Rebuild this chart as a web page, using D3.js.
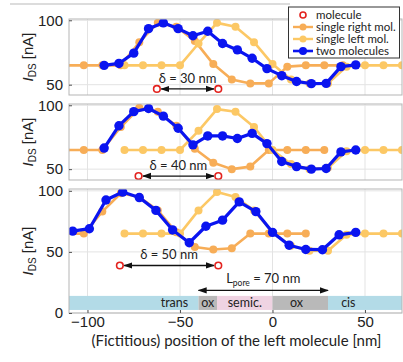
<!DOCTYPE html>
<html><head><meta charset="utf-8">
<script src="https://cdn.jsdelivr.net/npm/d3@7"></script>
<style>body{margin:0;background:#fff;} svg{display:block;}</style>
</head><body><svg id="c" width="403" height="362"></svg>
<script>
// ---------- data ----------
const xTicks = [-100, -50, 0, 50];
const yTicksTop = [50, 100];
const yTicksBottom = [0, 50, 100];
const deltas = [30, 40, 50];

// single left molecule (same sampling in all panels)
const leftX = [-80,-70,-60,-50,-40,-30,-20,-10,0,10,20,30,40,50,60,70];
const leftY1 = [65,65,65,65,82,98,95,83,66,54,51,51,64,65,65,65];
const leftY2 = [65,65,65,65,80,97,95,83,65,54,50,51,64,65,65,65];
const leftY3 = [65,65,65,65,84,99,95,84,66,55,51,51,64,65,65,65];

// single right molecule
const rightX1 = [-112,-102,-92,-82,-72,-62,-52,-42,-32,-22,-12,-2,8,18,28,38];
const rightX2 = [-122,-112,-102,-92,-82,-72,-62,-52,-42,-32,-22,-12,-2,8,18,28];
const rightX3 = [-132,-122,-112,-102,-92,-82,-72,-62,-52,-42,-32,-22,-12,-2,8,18];
const rightY1 = [65,65,65,65,83,98,95,84,66,54,51,51,64,65,65,65];
const rightY2 = [65,65,65,65,83,98,95,84,66,55,50,52,65,65,65,65];
const rightY3 = [65,65,65,65,83,98,95,84,66,54,52,53,65,65,65,65];

// two molecules
const blueX12 = [-91,-83,-75,-67,-59,-51,-43,-35,-27,-19,-11,-3,5,13,21,29,37,45];
const blueY1 = [65,66.5,74.5,93.5,98,93.5,88,91.5,82,77,70.5,62.5,57,52.5,50.8,51,64,65.4];
const blueY2 = [66.5,84,95,97.5,91.5,82,69,76,76,74,78,70,56,52,50,50.5,63.5,65];
const blueX3 = [-108,-99,-90,-81,-72,-63,-54,-45,-36,-27,-18,-9,0,9,18,27,36,45];
const blueY3 = [67,69,92.5,99,94.5,84,68,57.5,71,76,91,83,66,55.5,52,51.8,64,66];

// molecule markers (left, right) and their height
const molX1 = [-62.5, -29.3], molY1 = 46.7;
const molX2 = [-72.4, -29.3], molY2 = 44.6;
const molX3 = [-82.5, -29.3], molY3 = 38.9;

// pore regions
const regionNames = ["trans","ox","semic.","ox","cis"];
const regionStart = [-110,-40,-30,0,30];
const regionEnd   = [-40,-30,0,30,70];
const regionLabelX = [-53,-35,-15,13,41];
const regionBand = [2.5, 14];
const poreSpan = [-40, 30];
const poreLevel = 18.5;
const poreLabel = "= 70 nm";

const legendLabels = ["molecule","single right mol.","single left mol.","two molecules"];

// ---------- styles ----------
const cBlue = "#0a14f0", cOrange = "#f7ad57", cYellow = "#fcc865", cRed = "#e3231f";
const regionColors = {"trans":"#b3dbe7","ox":"#b9b9b9","semic.":"#efd3e2","cis":"#b3dbe7"};

const svg = d3.select("#c");
const x = d3.scaleLinear().domain([-110, 70]).range([69, 402]);

const panels = [
  {top:19, bottom:95, dom:[42,101], ticks:yTicksTop, lx:leftX, ly:leftY1, rx:rightX1, ry:rightY1, bx:blueX12, by:blueY1, mx:molX1, my:molY1, d:deltas[0]},
  {top:104, bottom:180, dom:[41.5,101], ticks:yTicksTop, lx:leftX, ly:leftY2, rx:rightX2, ry:rightY2, bx:blueX12, by:blueY2, mx:molX2, my:molY2, d:deltas[1]},
  {top:189, bottom:313, dom:[0,101.5], ticks:yTicksBottom, lx:leftX, ly:leftY3, rx:rightX3, ry:rightY3, bx:blueX3, by:blueY3, mx:molX3, my:molY3, d:deltas[2]}
];

const defs = svg.append("defs");
const mk = (id, orient) => defs.append("marker").attr("id", id).attr("viewBox","0 0 10 10")
  .attr("refX", 9).attr("refY", 5).attr("markerWidth", 7).attr("markerHeight", 7)
  .attr("orient", orient).append("path").attr("d","M0,1.5 L10,5 L0,8.5 Z").attr("fill","#111");
mk("arrEnd","auto"); mk("arrStart","auto-start-reverse");

// faint frame line at top of figure
svg.append("line").attr("x1",10).attr("x2",290).attr("y1",4).attr("y2",4)
  .attr("stroke","#d0d0d0").attr("stroke-width",1.5);

panels.forEach((p, i) => {
  const y = d3.scaleLinear().domain(p.dom).range([p.bottom, p.top]);
  const g = svg.append("g");
  const cid = "clip" + i;
  defs.append("clipPath").attr("id", cid).append("rect")
    .attr("x", x.range()[0]).attr("y", p.top).attr("width", x.range()[1]-x.range()[0]).attr("height", p.bottom-p.top);

  // grid
  g.selectAll(".vg").data(xTicks).join("line").attr("x1", d=>x(d)).attr("x2", d=>x(d))
    .attr("y1", p.top).attr("y2", p.bottom).attr("stroke","#e3e3e3").attr("stroke-width",1);
  g.selectAll(".hg").data(p.ticks).join("line").attr("x1", x.range()[0]).attr("x2", x.range()[1])
    .attr("y1", d=>y(d)).attr("y2", d=>y(d)).attr("stroke","#e3e3e3").attr("stroke-width",1);

  const c = g.append("g").attr("clip-path", `url(#${cid})`);

  if (i === 2) {
    regionNames.forEach((n, k) => {
      c.append("rect").attr("x", x(regionStart[k])).attr("width", x(regionEnd[k]) - x(regionStart[k]))
        .attr("y", y(regionBand[1])).attr("height", y(regionBand[0]) - y(regionBand[1]))
        .attr("fill", regionColors[n]);
      c.append("text").attr("x", x(regionLabelX[k])).attr("y", y((regionBand[0]+regionBand[1])/2) + 4.5)
        .attr("text-anchor","middle").attr("font-family","Lato").attr("font-size",12.5).attr("fill","#222").text(n);
    });
    // pore length arrow
    c.append("line").attr("x1", x(poreSpan[0])).attr("x2", x(poreSpan[1]))
      .attr("y1", y(poreLevel)).attr("y2", y(poreLevel)).attr("stroke","#111").attr("stroke-width",1.3)
      .attr("marker-start","url(#arrStart)").attr("marker-end","url(#arrEnd)");
    const t = c.append("text").attr("x", x((poreSpan[0]+poreSpan[1])/2)).attr("y", y(poreLevel) - 7)
      .attr("text-anchor","middle").attr("font-family","Lato").attr("font-size",13).attr("fill","#222");
    t.append("tspan").text("L");
    t.append("tspan").attr("font-size",8.5).attr("dy",3).text("pore");
    t.append("tspan").attr("dy",-3).text(" " + poreLabel);
  }

  const line = d3.line().x(d=>x(d[0])).y(d=>y(d[1]));
  const series = [
    {xs:p.rx, ys:p.ry, col:cOrange, w:2.6, r:4},
    {xs:p.lx, ys:p.ly, col:cYellow, w:2.6, r:4},
    {xs:p.bx, ys:p.by, col:cBlue, w:3.2, r:4.7}
  ];
  series.forEach(s => {
    const pts = s.xs.map((v, k) => [v, s.ys[k]]);
    c.append("path").attr("d", line(pts)).attr("fill","none").attr("stroke", s.col)
      .attr("stroke-width", s.w).attr("stroke-linejoin","round");
    c.selectAll(null).data(pts).join("circle").attr("cx", d=>x(d[0])).attr("cy", d=>y(d[1]))
      .attr("r", s.r).attr("fill", s.col);
  });

  // molecules + delta arrow
  const r = 3.3;
  c.append("line").attr("x1", x(p.mx[0]) + r + 1).attr("x2", x(p.mx[1]) - r - 1)
    .attr("y1", y(p.my)).attr("y2", y(p.my)).attr("stroke","#111").attr("stroke-width",1.3)
    .attr("marker-start","url(#arrStart)").attr("marker-end","url(#arrEnd)");
  c.selectAll(null).data(p.mx).join("circle").attr("cx", d=>x(d)).attr("cy", y(p.my)).attr("r", r)
    .attr("fill","#fff").attr("stroke", cRed).attr("stroke-width",1.6);
  c.append("text").attr("x", x((p.mx[0]+p.mx[1])/2)).attr("y", y(p.my) - 6)
    .attr("text-anchor","middle").attr("font-family","Lato").attr("font-size",13).attr("fill","#222")
    .text(`δ = ${p.d} nm`);

  // frame
  g.append("rect").attr("x", x.range()[0]).attr("y", p.top).attr("width", x.range()[1]-x.range()[0])
    .attr("height", p.bottom - p.top).attr("fill","none").attr("stroke","#b5b5b5").attr("stroke-width",1);

  // y axis
  const ya = g.append("g").attr("transform", `translate(${x.range()[0]},0)`)
    .call(d3.axisLeft(y).tickValues(p.ticks).tickSize(-3).tickPadding(6).tickFormat(d3.format("d")));
  ya.select(".domain").remove();
  ya.selectAll("line").attr("stroke","#555");
  ya.selectAll("text").attr("font-family","Liberation Sans").attr("font-size",15).attr("fill","#222");

  // y label
  const yl = g.append("text").attr("transform", `translate(33,${(p.top+p.bottom)/2}) rotate(-90)`)
    .attr("text-anchor","middle").attr("font-family","Liberation Sans").attr("font-size",15).attr("fill","#222");
  yl.append("tspan").attr("font-style","italic").text("I");
  yl.append("tspan").attr("font-size",10).attr("dy",3).text("DS");
  yl.append("tspan").attr("dy",-3).text(" [nA]");

  if (i === 2) {
    const xa = g.append("g").attr("transform", `translate(0,${p.bottom})`)
      .call(d3.axisBottom(x).tickValues(xTicks).tickSize(-3).tickPadding(3).tickFormat(d3.format("d")));
    xa.select(".domain").remove();
    xa.selectAll("line").attr("stroke","#555");
    xa.selectAll("text").attr("font-family","Liberation Sans").attr("font-size",15).attr("fill","#222");
    g.append("text").attr("x", 236.5).attr("y", 345.5)
      .attr("text-anchor","middle").attr("font-family","Lato").attr("font-size",15).attr("fill","#222")
      .text("(Fictitious) position of the left molecule [nm]");
  }
});

// legend
const lg = svg.append("g");
lg.append("rect").attr("x",288.5).attr("y",7).attr("width",111).attr("height",51)
  .attr("fill","#fff").attr("stroke","#333").attr("stroke-width",1);
const legCols = [null, cOrange, cYellow, cBlue];
legendLabels.forEach((lab, k) => {
  const yy = 15 + k * 12;
  if (k === 0) {
    lg.append("circle").attr("cx",303).attr("cy",yy).attr("r",3).attr("fill","#fff")
      .attr("stroke",cRed).attr("stroke-width",1.6);
  } else {
    lg.append("line").attr("x1",293).attr("x2",313).attr("y1",yy).attr("y2",yy)
      .attr("stroke",legCols[k]).attr("stroke-width",k===3?2.6:2.4);
    lg.append("circle").attr("cx",303).attr("cy",yy).attr("r",k===3?4:3.5).attr("fill",legCols[k]);
  }
  lg.append("text").attr("x",316).attr("y",yy+4).attr("font-family","Lato").attr("font-size",11.5)
    .attr("fill","#222").text(lab);
});
</script></body></html>
